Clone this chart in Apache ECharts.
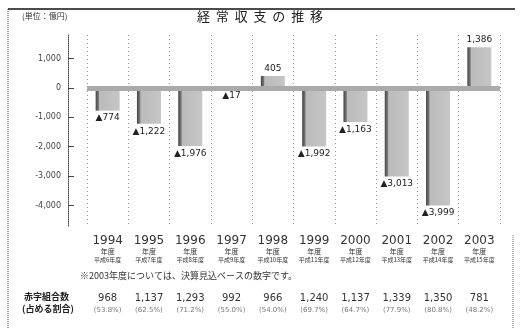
<!DOCTYPE html>
<html>
<head>
<meta charset="utf-8">
<script src="https://cdn.jsdelivr.net/npm/echarts@6/dist/echarts.min.js"></script>
<style>
  html, body { margin: 0; padding: 0; background: #fff; }
  #chart { width: 520px; height: 328px; }
</style>
</head>
<body>
<div id="chart"></div>
<script>
// 年度
const years = ['1994', '1995', '1996', '1997', '1998', '1999', '2000', '2001', '2002', '2003']
const heisei = ['平成6年度', '平成7年度', '平成8年度', '平成9年度', '平成10年度', '平成11年度', '平成12年度', '平成13年度', '平成14年度', '平成15年度']
// 経常収支（億円）
const balance = [-774, -1222, -1976, -17, 405, -1992, -1163, -3013, -3999, 1386]
// 赤字組合数・占める割合
const deficitCount = ['968', '1,137', '1,293', '992', '966', '1,240', '1,137', '1,339', '1,350', '781']
const deficitRate = ['53.8%', '62.5%', '71.2%', '55.0%', '54.0%', '69.7%', '64.7%', '77.9%', '80.8%', '48.2%']
// y軸目盛
const yTicks = [-4000, -3000, -2000, -1000, 0, 1000]

const font = '"Noto Sans CJK JP", sans-serif'
const fmt = v => Math.abs(v).toLocaleString('en-US')

const chart = echarts.init(document.getElementById('chart'))

// 棒の色（左側を濃くして立体風に）
const barColor = new echarts.graphic.LinearGradient(0, 0, 1, 0, [
  { offset: 0, color: '#444' },
  { offset: 0.12, color: '#777' },
  { offset: 0.16, color: '#bbb' },
  { offset: 1, color: '#c6c6c6' }
])

const option = {
  animation: false,
  backgroundColor: '#fff',
  textStyle: { fontFamily: font },
  title: {
    text: '経  常  収  支  の  推  移',
    left: 'center',
    top: 5,
    textStyle: { fontSize: 13, fontWeight: 'normal', color: '#222', fontFamily: font }
  },
  graphic: [
    // 枠
    { type: 'line', shape: { x1: 8, y1: 9, x2: 515, y2: 9 }, style: { stroke: '#111', lineWidth: 1.5 } },
    { type: 'line', shape: { x1: 8, y1: 9, x2: 8, y2: 328 }, style: { stroke: '#444', lineWidth: 1, lineDash: [1, 1] } },
    { type: 'line', shape: { x1: 513, y1: 235, x2: 513, y2: 328 }, style: { stroke: '#666', lineWidth: 1, lineDash: [1, 1] } },
    // 単位
    { type: 'text', left: 22, top: 12, style: { text: '(単位：億円)', fontSize: 8, fill: '#333', fontFamily: font } },
    // 注記
    { type: 'text', left: 80, top: 271, style: { text: '※2003年度については、決算見込ベースの数字です。', fontSize: 9, fill: '#333', fontFamily: font } },
    // 表見出し
    { type: 'text', left: 24, top: 292, style: { text: '赤字組合数', fontSize: 9, fontWeight: 'bold', fill: '#222', fontFamily: font } },
    { type: 'text', left: 22, top: 304, style: { text: '(占める割合)', fontSize: 9, fontWeight: 'bold', fill: '#222', fontFamily: font } }
  ],
  grid: { left: 87, right: 20, top: 35, bottom: 102 },
  xAxis: [
    {
      type: 'category',
      data: years,
      axisLine: { show: false },
      axisTick: { show: false },
      splitLine: { show: true, interval: 0, lineStyle: { type: [1, 3], color: '#999' } },
      axisLabel: {
        interval: 0,
        margin: 9,
        formatter: (v, i) => `{y|${v}}\n{n|年度}\n{h|${heisei[i]}}`,
        rich: {
          y: { fontSize: 12, color: '#333', fontFamily: 'DejaVu Sans', lineHeight: 12 },
          n: { fontSize: 7, color: '#333', fontFamily: font, lineHeight: 9 },
          h: { fontSize: 6, color: '#333', fontFamily: font, lineHeight: 8 }
        }
      }
    },
    {
      type: 'category',
      data: deficitCount,
      position: 'bottom',
      axisLine: { show: false },
      axisTick: { show: false },
      axisLabel: {
        interval: 0,
        margin: 66,
        formatter: (v, i) => `{c|${v}}\n{p|(${deficitRate[i]})}`,
        rich: {
          c: { fontSize: 10, color: '#333', fontFamily: 'DejaVu Sans', lineHeight: 12 },
          p: { fontSize: 7, color: '#777', fontFamily: 'DejaVu Sans', lineHeight: 12 }
        }
      }
    }
  ],
  yAxis: {
    type: 'value',
    min: -4700,
    max: 1800,
    offset: 19,
    axisLine: { show: true, lineStyle: { color: '#444', type: [1, 1] } },
    axisTick: { show: true, inside: true, length: 6, customValues: yTicks, lineStyle: { color: '#444' } },
    splitLine: { show: false },
    axisLabel: {
      customValues: yTicks,
      margin: 7,
      fontSize: 8,
      color: '#444',
      fontFamily: 'DejaVu Sans',
      formatter: v => (v < 0 ? '-' : '') + fmt(v)
    }
  },
  series: [
    {
      type: 'bar',
      // 負の値はラベルを棒の下に
      data: balance.map(v => ({
        value: v,
        label: { position: v < 0 ? 'bottom' : 'top' }
      })),
      barWidth: 24,
      itemStyle: { color: barColor },
      label: {
        show: true,
        fontSize: 9,
        color: '#222',
        fontFamily: 'DejaVu Sans',
        distance: 3,
        formatter: p => (p.value < 0 ? '▲' : '') + fmt(p.value)
      },
      markLine: {
        silent: true,
        symbol: 'none',
        label: { show: false },
        lineStyle: { color: '#aaa', width: 5, type: 'solid' },
        data: [{ yAxis: 0 }]
      },
      z: 3
    }
  ]
}

chart.setOption(option)
</script>
</body>
</html>
